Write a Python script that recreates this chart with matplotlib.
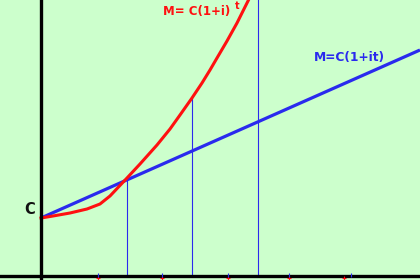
import matplotlib
matplotlib.use('Agg')
import matplotlib.pyplot as plt
import numpy as np

# values measured from the origin of the sketch (t to the right, money upwards)
t_compound = [0, 12, 29, 46, 59, 69, 86, 99, 116, 129, 139, 151, 161, 169, 176, 186, 196, 206, 208]
m_compound = [58, 60, 63, 67, 72, 80, 98, 112, 131, 147, 161, 178, 193, 206, 218, 235, 253, 273, 277]
t_simple = [0, 379]
m_simple = [58, 226]
guide_t = [86, 151, 217]
guide_top = [98, 178, 280]
tick_red = [57, 121, 187, 248, 303]
tick_blue = [57, 121, 187, 248, 310]

fig = plt.figure(figsize=(4.2, 2.8), dpi=100)
ax = fig.add_axes([0, 0, 1, 1])
fig.patch.set_facecolor('#ccffcc')
ax.set_facecolor('#ccffcc')
ax.set_xlim(-41, 379)
ax.set_ylim(-4, 276)
ax.axis('off')

# guide lines from the axis up to the curves
for t, top in zip(guide_t, guide_top):
    ax.plot([t, t], [0, top], color='#2a2aee', lw=0.8)

ax.plot(t_simple, m_simple, color='#2a2aee', lw=2.3, solid_capstyle='butt')
ax.plot(t_compound, m_compound, color='#ff1010', lw=2.2, solid_joinstyle='round')

# axes
ax.plot([-41, 379], [0, 0], color='black', lw=2.4)
ax.plot([0, 0], [-4, 280], color='black', lw=2.4)

ax.plot(tick_red, [-2] * len(tick_red), '+', color='#ff1010', ms=3, mew=0.8)
ax.plot(tick_blue, [1] * len(tick_blue), '|', color='#2a2aee', ms=3, mew=0.8)

ax.text(-11, 66, 'C', fontsize=10.5, fontweight='bold', ha='center', va='center', color='#111111')
ax.text(122, 264, 'M= C(1+i)', fontsize=8.5, fontweight='bold', color='#ff1010', ha='left', va='center')
ax.text(194, 270, 't', fontsize=7, fontweight='bold', color='#ff1010', ha='left', va='center')
ax.text(273, 218, 'M=C(1+it)', fontsize=8.8, fontweight='bold', color='#2a2aee', ha='left', va='center')

plt.savefig('out.png', dpi=100, facecolor=fig.get_facecolor())
plt.close()
